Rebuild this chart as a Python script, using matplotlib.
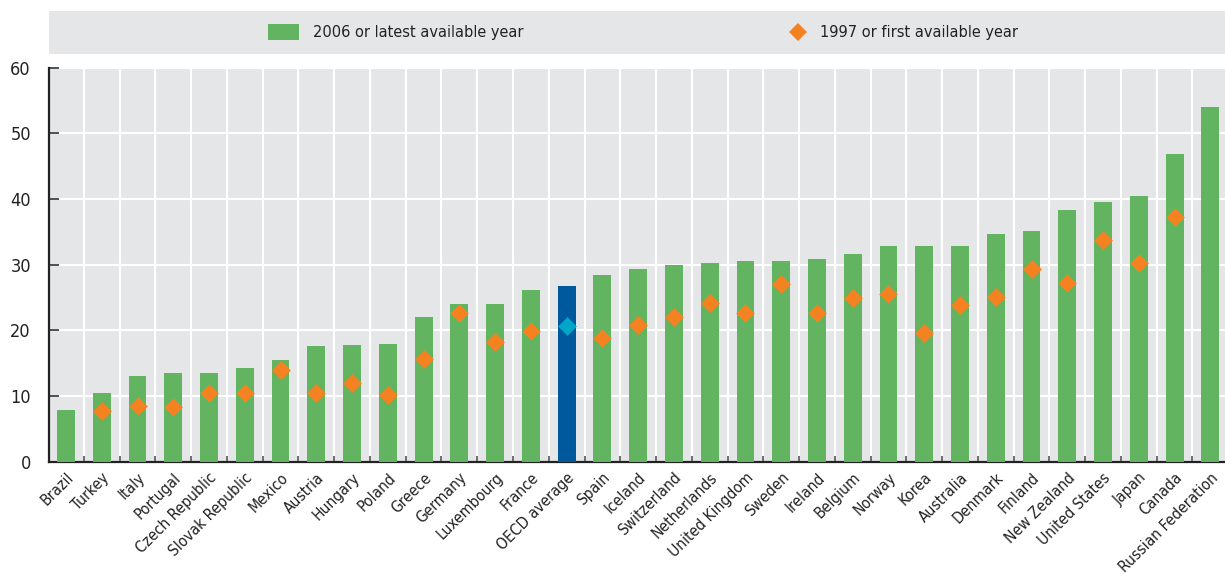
import matplotlib
matplotlib.use("Agg")
import matplotlib.pyplot as plt
from matplotlib.patches import Rectangle
from matplotlib.lines import Line2D
from matplotlib import font_manager
import numpy as np

countries = ["Brazil", "Turkey", "Italy", "Portugal", "Czech Republic", "Slovak Republic",
             "Mexico", "Austria", "Hungary", "Poland", "Greece", "Germany", "Luxembourg",
             "France", "OECD average", "Spain", "Iceland", "Switzerland", "Netherlands",
             "United Kingdom", "Sweden", "Ireland", "Belgium", "Norway", "Korea", "Australia",
             "Denmark", "Finland", "New Zealand", "United States", "Japan", "Canada",
             "Russian Federation"]
latest = [7.8, 10.4, 13.0, 13.5, 13.5, 14.2, 15.5, 17.6, 17.7, 17.9, 22.1, 24.0, 24.0,
          26.2, 26.8, 28.5, 29.4, 29.9, 30.2, 30.5, 30.5, 30.8, 31.7, 32.9, 32.9, 32.9,
          34.6, 35.1, 38.3, 39.5, 40.4, 46.9, 54.0]
first = [np.nan, 7.7, 8.5, 8.3, 10.5, 10.5, 13.9, 10.5, 12.0, 10.2, 15.6, 22.6, 18.2,
         19.9, 20.6, 18.9, 20.8, 22.1, 24.1, 22.6, 27.1, 22.7, 24.9, 25.6, 19.6, 23.9,
         25.1, 29.3, 27.2, 33.8, 30.3, 37.2, np.nan]
legend_labels = ["2006 or latest available year", "1997 or first available year"]

GREEN = "#62b460"
ORANGE = "#f58220"
BLUE = "#00589d"
CYAN = "#00a6c8"
BG = "#e5e6e8"

cond = [f for f in font_manager.fontManager.ttflist if "ondensed" in f.fname or "Narrow" in f.fname]
if cond:
    fp_kw = dict(fname=cond[0].fname)
    for f in cond:
        if "Sans" in f.fname and "Bold" not in f.fname and "Oblique" not in f.fname and "Italic" not in f.fname:
            fp_kw = dict(fname=f.fname)
            break
else:
    fp_kw = dict(family="Liberation Sans")

def fp(size):
    return font_manager.FontProperties(size=size, **fp_kw)

fig = plt.figure(figsize=(12.25, 5.76), dpi=100)
ax = fig.add_axes([49/1225, 1-461.7/576, 1-49/1225, (461.7-67.7)/576])
ax.set_facecolor(BG)

x = np.arange(len(countries))
oecd = countries.index("OECD average")
bar_colors = [BLUE if i == oecd else GREEN for i in x]
ax.bar(x, latest, width=0.5, color=bar_colors, zorder=3)

fx = np.array([i for i in x if i != oecd])
ax.scatter(fx, np.array(first)[fx], marker="D", s=9.5**2, color=ORANGE, zorder=4, linewidths=0)
ax.scatter([oecd], [first[oecd]], marker="D", s=9.5**2, color=CYAN, zorder=4, linewidths=0)

ax.set_xlim(-0.475, 32.41)
ax.set_ylim(0, 60)
ax.set_yticks(np.arange(0, 61, 10))
ax.set_yticklabels([str(v) for v in range(0, 61, 10)], fontproperties=fp(13), color="#222222")
ax.set_xticks(x)
ax.set_xticklabels(countries, rotation=45, ha="right", rotation_mode="anchor",
                   fontproperties=fp(11.2), color="#222222")
ax.set_xticks(x[:-1] + 0.5, minor=True)
ax.tick_params(axis="x", which="major", length=0, pad=6)
ax.tick_params(axis="x", which="minor", length=4, direction="in", color="#555555", width=1.2)
ax.tick_params(axis="y", length=7, direction="in", color="#333333", width=1.2, pad=13)
ax.grid(False)
ax.grid(True, axis="y", which="major", color="white", linewidth=1.5, zorder=1)
ax.grid(True, axis="x", which="minor", color="white", linewidth=1.5, zorder=1)
ax.set_axisbelow(True)
for s in ["top", "right"]:
    ax.spines[s].set_visible(False)
for s in ["left", "bottom"]:
    ax.spines[s].set_color("#222222")
    ax.spines[s].set_linewidth(1.6)

# legend band
fig.patches.append(Rectangle((49/1225, 1-53.7/576), 1-49/1225, 42.7/576,
                             transform=fig.transFigure, facecolor=BG, edgecolor="none"))
ly = 1 - 32/576
fig.patches.append(Rectangle((268/1225, 1-40/576), 31/1225, 16/576,
                             transform=fig.transFigure, facecolor=GREEN, edgecolor="none"))
fig.text(313/1225, ly, legend_labels[0], fontproperties=fp(11.7), va="center", ha="left", color="#222222")
fig.lines.append(Line2D([798/1225], [ly], transform=fig.transFigure, marker="D",
                        markersize=9.5, color=ORANGE, markeredgewidth=0, linestyle="none"))
fig.text(820/1225, ly, legend_labels[1], fontproperties=fp(11.7), va="center", ha="left", color="#222222")

fig.savefig("out.png", dpi=100)
